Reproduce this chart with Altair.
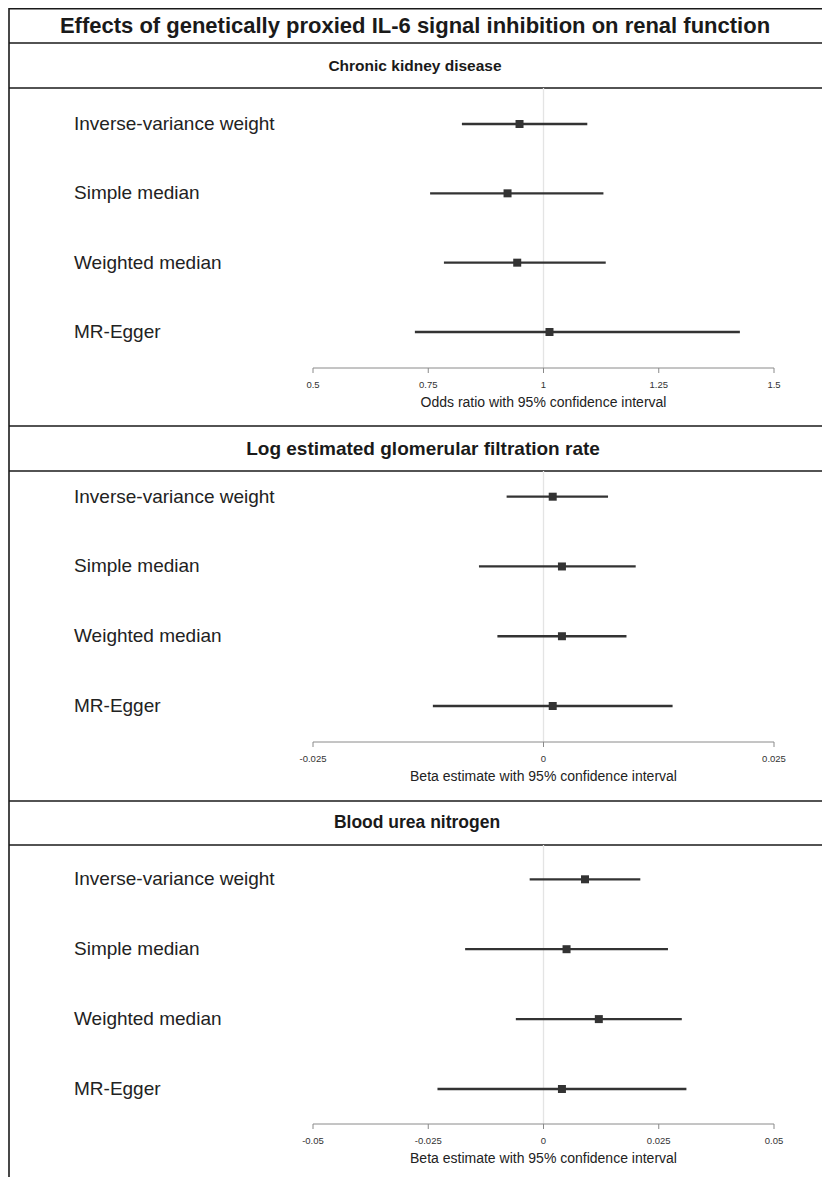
import altair as alt
import pandas as pd

# ---------------- data ----------------
methods = ["Inverse-variance weight", "Simple median", "Weighted median", "MR-Egger"]
row_order = [0, 1, 2, 3]

main_title = "Effects of genetically proxied IL-6 signal inhibition on renal function"
panel_titles = ["Chronic kidney disease",
                "Log estimated glomerular filtration rate",
                "Blood urea nitrogen"]
axis_titles = ["Odds ratio with 95% confidence interval",
               "Beta estimate with 95% confidence interval",
               "Beta estimate with 95% confidence interval"]

ckd_est = [0.948, 0.922, 0.943, 1.013]
ckd_lo = [0.823, 0.754, 0.784, 0.721]
ckd_hi = [1.095, 1.130, 1.135, 1.426]
ckd_ticks = [0.5, 0.75, 1, 1.25, 1.5]
ckd_tick_labels = ["0.5", "0.75", "1", "1.25", "1.5"]
ckd_ref = [1]

egfr_est = [0.001, 0.002, 0.002, 0.001]
egfr_lo = [-0.004, -0.007, -0.005, -0.012]
egfr_hi = [0.007, 0.010, 0.009, 0.014]
egfr_ticks = [-0.025, 0, 0.025]
egfr_tick_labels = ["-0.025", "0", "0.025"]
egfr_ref = [0]

bun_est = [0.009, 0.005, 0.012, 0.004]
bun_lo = [-0.003, -0.017, -0.006, -0.023]
bun_hi = [0.021, 0.027, 0.030, 0.031]
bun_ticks = [-0.05, -0.025, 0, 0.025, 0.05]
bun_tick_labels = ["-0.05", "-0.025", "0", "0.025", "0.05"]
bun_ref = [0]

# ---------------- layout ----------------
W, H = 814, 1169
X_RANGE = [305, 766]
FONT = "Liberation Sans"
LINE = "#1a1a1a"
DARK = "#333333"
AXIS = "#8a8a8a"

one = pd.DataFrame({"k": [0]})


def hline(y):
    return alt.Chart(one).mark_rule(color=LINE, strokeWidth=1.6).encode(
        x=alt.value(1), x2=alt.value(W), y=alt.value(y))


def label(text, y, size, x=407):
    return alt.Chart(one).mark_text(
        text=text, font=FONT, fontSize=size, fontWeight="bold", color="#1a1a1a",
        align="center", baseline="middle").encode(x=alt.value(x), y=alt.value(y))


def panel(est, lo, hi, ticks, tick_labels, ref, xtitle, top, axis_y, rows):
    df = pd.DataFrame({"method": methods, "idx": row_order,
                       "est": est, "lo": lo, "hi": hi})
    tdf = pd.DataFrame({"tick": ticks, "lab": tick_labels})
    ddf = pd.DataFrame({"a": [ticks[0]], "b": [ticks[-1]]})
    xs = alt.Scale(domain=[ticks[0], ticks[-1]], range=X_RANGE, nice=False, zero=False)
    ys = alt.Scale(domain=[0, 3], range=rows, nice=False, zero=False)

    refline = alt.Chart(pd.DataFrame({"ref": ref})).mark_rule(
        color="#e4e4e4", strokeWidth=1.3).encode(
        x=alt.X("ref:Q", scale=xs, axis=None),
        y=alt.value(top), y2=alt.value(axis_y))
    base = alt.Chart(df)
    bars = base.mark_rule(color=DARK, strokeWidth=2.3).encode(
        x=alt.X("lo:Q", scale=xs, axis=None),
        x2="hi:Q",
        y=alt.Y("idx:Q", scale=ys, axis=None))
    pts = base.mark_square(size=64, color=DARK, opacity=1).encode(
        x=alt.X("est:Q", scale=xs, axis=None),
        y=alt.Y("idx:Q", scale=ys, axis=None))
    names = base.mark_text(align="left", baseline="middle", font=FONT,
                           fontSize=19, color="#222222").encode(
        x=alt.value(66),
        y=alt.Y("idx:Q", scale=ys, axis=None),
        text="method:N")

    domain = alt.Chart(ddf).mark_rule(color=AXIS, strokeWidth=1).encode(
        x=alt.X("a:Q", scale=xs, axis=None), x2="b:Q", y=alt.value(axis_y))
    tick_marks = alt.Chart(tdf).mark_rule(color=AXIS, strokeWidth=1).encode(
        x=alt.X("tick:Q", scale=xs, axis=None),
        y=alt.value(axis_y), y2=alt.value(axis_y + 5))
    tick_text = alt.Chart(tdf).mark_text(
        font=FONT, fontSize=9.5, color="#333333", align="center", baseline="middle").encode(
        x=alt.X("tick:Q", scale=xs, axis=None),
        y=alt.value(axis_y + 17), text="lab:N")
    title = alt.Chart(one).mark_text(
        text=xtitle, font=FONT, fontSize=14, color="#222222",
        align="center", baseline="middle").encode(
        x=alt.value((X_RANGE[0] + X_RANGE[1]) / 2), y=alt.value(axis_y + 35))
    return alt.layer(refline, bars, pts, names, domain, tick_marks, tick_text, title)


frame = [
    alt.Chart(one).mark_rule(color=LINE, strokeWidth=1.6).encode(
        x=alt.value(1), y=alt.value(0), y2=alt.value(H)),
    hline(0.8), hline(35), hline(80), hline(418), hline(463), hline(793), hline(837),
    label(main_title, 17.5, 22),
    label(panel_titles[0], 58, 15.5),
    label(panel_titles[1], 441, 19, x=415),
    label(panel_titles[2], 815, 17.5, x=409),
]

p1 = panel(ckd_est, ckd_lo, ckd_hi, ckd_ticks, ckd_tick_labels, ckd_ref,
           axis_titles[0], 80, 360, [116, 324])
p2 = panel(egfr_est, egfr_lo, egfr_hi, egfr_ticks, egfr_tick_labels, egfr_ref,
           axis_titles[1], 463, 734, [488.7, 698])
p3 = panel(bun_est, bun_lo, bun_hi, bun_ticks, bun_tick_labels, bun_ref,
           axis_titles[2], 837, 1116, [871.3, 1081])

chart = alt.layer(*frame, p1, p2, p3).resolve_scale(
    x="independent", y="independent"
).properties(
    width=W, height=H, padding=0,
    autosize=alt.AutoSizeParams(type="none"),
    background="white",
).configure_view(strokeWidth=0)

chart.save("out.html", embed_options={"renderer": "svg", "actions": False})
